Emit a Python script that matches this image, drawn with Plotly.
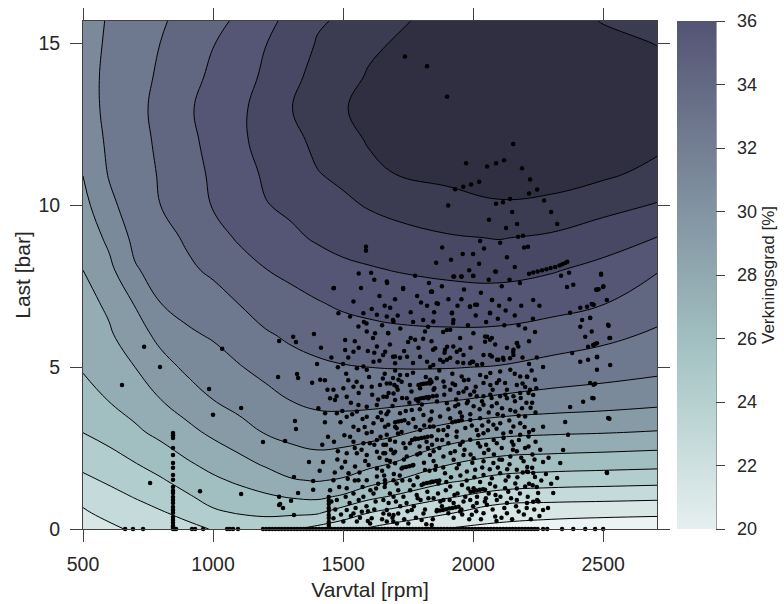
import plotly.graph_objects as go

# ---------------- contour grid ----------------
varvtal_grid = [500, 600, 700, 800, 900, 1000, 1100, 1200, 1300, 1400, 1500, 1600,
                1700, 1900, 2100, 2300, 2500, 2710]
last_grid = [0, 0.5, 1, 1.5, 2, 3, 4, 5, 6, 7, 8, 9, 10, 11, 12, 13, 14, 15, 15.7]

# efficiency [%] per rpm column, bottom (0 bar) to top (15.7 bar)
verk_500 = [21.5, 21.88, 22.25, 22.79, 23.22, 24.02, 24.6, 25.09, 25.39, 25.7, 26.0, 26.34, 26.69, 27.03, 27.25, 27.45, 27.57, 27.66, 27.7]
verk_600 = [21.8, 22.26, 22.7, 23.13, 23.57, 24.36, 25.04, 25.46, 25.88, 26.17, 26.74, 27.22, 27.78, 28.07, 28.2, 28.3, 28.25, 28.12, 28.06]
verk_700 = [22.15, 22.6, 23.05, 23.5, 23.95, 24.83, 25.44, 26.0, 26.53, 27.08, 27.91, 28.25, 28.45, 28.6, 28.7, 28.75, 28.7, 28.55, 28.45]
verk_800 = [22.5, 22.92, 23.4, 23.9, 24.38, 25.26, 26.0, 26.63, 27.3, 28.02, 28.36, 28.69, 29.01, 29.09, 29.17, 29.25, 29.13, 29.02, 28.9]
verk_900 = [22.75, 23.25, 23.88, 24.38, 24.86, 25.74, 26.5, 27.19, 27.84, 28.36, 28.83, 29.12, 29.32, 29.51, 29.7, 29.84, 29.62, 29.42, 29.3]
verk_1000 = [23.05, 23.84, 24.36, 24.82, 25.29, 26.2, 27.0, 27.56, 28.11, 28.63, 29.16, 29.68, 30.06, 30.2, 30.35, 30.43, 30.2, 29.97, 29.75]
verk_1100 = [23.3, 24.06, 24.61, 25.16, 25.68, 26.64, 27.35, 27.94, 28.49, 29.03, 29.64, 30.1, 30.34, 30.58, 30.83, 30.83, 30.58, 30.33, 30.15]
verk_1200 = [23.45, 24.17, 24.86, 25.5, 26.1, 27.06, 27.69, 28.29, 28.88, 29.49, 29.97, 30.46, 30.95, 31.14, 31.3, 31.33, 31.16, 30.97, 30.8]
verk_1300 = [23.1, 24.18, 25.08, 25.92, 26.45, 27.32, 28.03, 28.62, 29.18, 29.69, 30.24, 30.82, 31.18, 31.45, 31.71, 31.97, 31.75, 31.45, 31.2]
verk_1400 = [22.7, 24.11, 25.2, 26.05, 26.6, 27.5, 28.24, 28.82, 29.39, 29.94, 30.55, 31.11, 31.53, 31.96, 32.23, 32.5, 32.28, 32.06, 31.9]
verk_1500 = [22.4, 23.5, 24.86, 25.9, 26.47, 27.48, 28.29, 28.94, 29.56, 30.18, 30.79, 31.32, 31.8, 32.23, 32.62, 32.94, 32.64, 32.34, 32.12]
verk_1600 = [21.9, 23.0, 24.25, 25.4, 26.23, 27.35, 28.29, 29.0, 29.69, 30.32, 30.91, 31.49, 32.08, 32.74, 33.09, 33.25, 33.09, 32.82, 32.5]
verk_1700 = [21.6, 22.63, 23.88, 25.0, 25.91, 27.18, 28.24, 29.04, 29.78, 30.42, 31.03, 31.64, 32.31, 33.02, 33.26, 33.5, 33.28, 33.07, 32.85]
verk_1900 = [20.95, 22.1, 23.11, 24.17, 25.04, 26.64, 28.08, 29.04, 29.83, 30.53, 31.21, 31.9, 32.68, 33.22, 33.58, 33.95, 33.83, 33.65, 33.35]
verk_2100 = [20.75, 21.38, 22.56, 23.67, 24.58, 26.29, 27.83, 28.95, 29.79, 30.55, 31.29, 32.04, 32.91, 33.38, 33.8, 34.15, 34.1, 33.95, 33.75]
verk_2300 = [20.6, 21.27, 22.4, 23.48, 24.45, 26.15, 27.64, 28.68, 29.57, 30.36, 31.08, 31.85, 32.76, 33.45, 33.9, 34.1, 34.0, 33.75, 33.5]
verk_2500 = [20.45, 21.23, 22.32, 23.4, 24.36, 26.07, 27.5, 28.48, 29.25, 30.06, 30.71, 31.46, 32.32, 33.2, 33.6, 33.75, 33.6, 33.3, 32.95]
verk_2710 = [20.3, 21.2, 22.23, 23.32, 24.27, 25.95, 27.32, 28.26, 28.85, 29.44, 30.05, 30.97, 31.92, 32.72, 33.25, 33.5, 33.3, 32.97, 32.75]

verk_columns = [verk_500, verk_600, verk_700, verk_800, verk_900, verk_1000, verk_1100,
                verk_1200, verk_1300, verk_1400, verk_1500, verk_1600, verk_1700, verk_1900,
                verk_2100, verk_2300, verk_2500, verk_2710]

# ---------------- measured operating points ----------------
# points on the 0-bar line (rpm)
noll_rpm = [662, 692, 731, 846, 852, 858, 919, 931, 962, 1054, 1065, 1077, 1096,
            1192, 1204, 1216, 1228, 1240, 1252, 1264, 1276, 1288, 1300, 1312, 1324, 1336, 1348,
            1360, 1372, 1384, 1396, 1408, 1420, 1432, 1444, 1456, 1468, 1480, 1492, 1504, 1516,
            1528, 1540, 1552, 1564, 1576, 1588, 1600, 1612, 1624, 1636, 1648, 1660, 1672, 1684,
            1696, 1708, 1720, 1732, 1744, 1756, 1768, 1780, 1792, 1804, 1816, 1828, 1840, 1852,
            1864, 1876, 1888, 1900, 1912, 1924, 1936, 1948, 1960, 1972, 1984, 1996, 2008, 2020,
            2032, 2044, 2056, 2068, 2080, 2092, 2104, 2116, 2128, 2140, 2152, 2164, 2176, 2188,
            2200, 2212, 2224, 2236, 2248, 2269, 2285, 2342, 2385, 2431, 2469, 2500]

# vertical column of points near 850 rpm (bar)
kolumn850_last = [2.97, 2.9, 2.81, 2.5, 2.29, 2.04, 1.89, 1.67, 1.52, 1.3, 1.18, 1.11, 0.99,
                  0.9, 0.8, 0.68, 0.59, 0.5, 0.37, 0.28, 0.19, 0.1, 0.06]
# vertical column of points near 1445 rpm (bar)
kolumn1445_last = [0.99, 0.87, 0.77, 0.65, 0.56, 0.43, 0.34, 0.22, 0.12, 0.05]

# other points (rpm, bar)
punkter = [
    (1738, 14.6), (1823, 14.3), (1900, 13.36), (2154, 11.9), (1973, 11.3), (2054, 11.2),
    (2088, 11.3), (2119, 11.4), (2188, 11.15), (2219, 10.8), (1931, 10.5), (1962, 10.58),
    (1992, 10.65), (2023, 10.73), (2215, 10.37), (2246, 10.49), (1904, 10.0), (2088, 10.05),
    (2115, 10.1), (2142, 10.2), (2273, 10.15), (2061, 9.56), (2150, 9.8), (2300, 9.8),
    (2127, 9.3), (2169, 9.43), (2323, 9.43), (2173, 9.03), (2192, 9.06), (2027, 8.9),
    (2104, 8.85), (1881, 8.7), (2042, 8.67), (2196, 8.7), (2211, 8.72), (1915, 8.32),
    (1858, 8.23), (2023, 8.2), (2088, 7.95),
    (2215, 7.89), (2231, 7.93), (2248, 7.96), (2265, 8.0), (2282, 8.03), (2298, 8.07),
    (2315, 8.1), (2332, 8.14), (2343, 8.18), (2354, 8.22), (2362, 8.26),
    (2338, 7.83), (2369, 7.92), (2492, 7.89), (1777, 7.83), (1927, 7.8), (1954, 7.8),
    (2000, 7.83), (1669, 7.6), (1731, 7.42), (1838, 7.33), (2361, 7.48), (2385, 7.55),
    (2473, 7.4), (2500, 7.48), (1588, 8.72), (1588, 8.6), (1608, 7.92), (1465, 7.45), (1569, 7.45),
    # left scattered
    (650, 4.45), (735, 5.63), (796, 5.01), (758, 1.42), (950, 1.17), (985, 4.33), (1000, 3.53),
    (1035, 5.57), (1108, 3.74), (1108, 1.08), (1192, 2.69), (1277, 2.72), (1250, 4.7),
    (1254, 5.81), (1308, 5.94), (1319, 5.78), (1388, 6.03), (1323, 4.79), (1327, 4.67),
    (1315, 3.34), (1319, 3.09), (1369, 2.07), (1423, 2.07), (1442, 2.85), (1311, 1.61),
    (1385, 1.48), (1385, 1.21), (1254, 1.0), (1300, 0.87), (1254, 0.74), (1269, 0.65),
    (1311, 0.43), (1381, 4.52), (1258, 0.77), (1327, 1.11),
    # 1450-1710 rpm
    (1463, 7.44), (1668, 7.65), (1540, 7.03), (1578, 6.67), (1630, 6.62), (1668, 6.57),
    (1694, 6.41), (1482, 6.67), (1527, 6.57), (1559, 6.26), (1591, 6.1), (1623, 6.05),
    (1674, 6.05), (1508, 5.84), (1540, 5.48), (1508, 5.53), (1553, 4.97), (1578, 5.02),
    (1591, 4.92), (1630, 5.64), (1662, 5.48), (1700, 5.33), (1700, 5.12), (1617, 5.17),
    (1463, 4.3), (1501, 4.35), (1540, 4.4), (1572, 4.4), (1610, 4.4), (1642, 4.45),
    (1681, 4.5), (1713, 4.61), (1412, 4.61), (1450, 4.04), (1469, 3.99), (1514, 4.09),
    (1559, 3.83), (1591, 3.78), (1630, 3.83), (1668, 4.09), (1694, 4.19), (1405, 3.73),
    (1431, 3.58), (1476, 3.58), (1514, 3.47), (1553, 3.63), (1591, 3.47), (1617, 3.27),
    (1649, 3.37), (1674, 3.22), (1700, 3.16), (1540, 3.16), (1559, 3.06), (1591, 2.96),
    (1578, 2.65), (1630, 2.75), (1668, 2.91), (1700, 2.7), (1540, 2.7), (1514, 2.34),
    (1553, 2.34), (1591, 2.29), (1630, 2.39), (1662, 2.34), (1694, 2.34), (1508, 2.08),
    (1546, 1.93), (1598, 1.98), (1630, 1.87), (1668, 2.13), (1700, 2.03), (1521, 1.72),
    (1559, 1.51), (1591, 1.51), (1630, 1.62), (1662, 1.41), (1694, 1.51), (1463, 1.51),
    (1450, 1.2), (1514, 1.26), (1540, 1.1), (1578, 1.0), (1617, 1.1), (1655, 0.9),
    (1694, 1.0), (1476, 0.9), (1514, 0.59), (1540, 0.48), (1572, 0.53), (1610, 0.33),
    (1655, 0.48), (1694, 0.43), (1463, 0.33), (1501, 0.23), (1553, 0.23), (1604, 0.17),
    (1668, 0.23), (1707, 0.17),
    (1475, 4.1), (1490, 3.3), (1505, 2.9), (1520, 4.6), (1530, 3.9), (1545, 2.5), (1560, 4.2),
    (1575, 3.4), (1585, 2.1), (1600, 4.7), (1610, 3.0), (1620, 2.6), (1635, 4.0), (1645, 3.6),
    (1650, 1.8), (1480, 2.4), (1495, 1.9), (1510, 1.0), (1525, 0.8), (1545, 1.5), (1560, 0.9),
    (1575, 1.3), (1590, 0.7), (1605, 1.2), (1620, 0.6), (1635, 1.4), (1650, 0.3), (1470, 0.6),
    (1485, 1.3), (1530, 0.4), (1565, 0.35), (1595, 0.25), (1625, 0.85), (1640, 2.2), (1655, 2.6),
    (1500, 5.1), (1520, 5.3), (1560, 5.6), (1595, 5.5), (1615, 5.9), (1640, 5.2), (1580, 6.4),
    (1610, 6.8), (1650, 6.3), (1480, 5.0), (1455, 5.3), (1440, 4.3), (1430, 3.3), (1420, 2.6),
    (1410, 1.8), (1465, 2.7), (1430, 4.6), (1415, 5.6), (1400, 5.1),
    # 1650-1845 rpm
    (1668, 4.5), (1706, 4.4), (1757, 4.45), (1796, 4.35), (1834, 4.5), (1655, 4.09),
    (1700, 3.99), (1745, 4.04), (1789, 3.94), (1828, 4.04), (1674, 3.63), (1719, 3.58),
    (1764, 3.68), (1809, 3.52), (1841, 3.63), (1661, 3.16), (1706, 3.11), (1751, 3.27),
    (1796, 3.06), (1834, 3.16), (1680, 2.75), (1732, 2.65), (1777, 2.8), (1821, 2.7),
    (1655, 2.34), (1700, 2.39), (1745, 2.24), (1796, 2.34), (1834, 2.29), (1674, 1.93),
    (1725, 1.87), (1770, 1.98), (1815, 1.82), (1661, 1.51), (1706, 1.41), (1757, 1.51),
    (1802, 1.36), (1841, 1.46), (1680, 1.1), (1732, 1.0), (1783, 1.05), (1828, 0.95),
    (1668, 0.59), (1712, 0.48), (1764, 0.59), (1809, 0.48), (1693, 0.23), (1751, 0.17),
    (1802, 0.28), (1841, 0.12),
    (1790, 4.45), (1800, 4.47), (1810, 4.49), (1820, 4.5), (1830, 4.52), (1840, 4.54),
    (1780, 4.0), (1790, 4.02), (1800, 4.04), (1810, 4.05), (1820, 4.07), (1830, 4.08),
    (1845, 4.1), (1860, 4.12), (1765, 2.75), (1777, 2.77), (1789, 2.79), (1801, 2.81),
    (1813, 2.83), (1825, 2.85), (1840, 2.87), (1810, 1.4), (1822, 1.42), (1834, 1.44),
    (1846, 1.46), (1858, 1.48), (1870, 1.5), (1860, 0.55), (1872, 0.57), (1884, 0.59),
    (1896, 0.61), (1908, 0.63), (1920, 0.65), (1932, 0.67), (1944, 0.69), (1730, 1.9),
    (1742, 1.92), (1754, 1.94), (1766, 1.96), (1920, 3.3), (1932, 3.32), (1944, 3.34),
    (1956, 3.36), (1990, 1.15), (2002, 1.17), (2014, 1.19), (2026, 1.21), (2038, 1.23),
    (1700, 3.3), (1712, 3.32), (1724, 3.34), (1736, 3.36),
    (1660, 4.8), (1675, 4.2), (1690, 3.8), (1710, 4.3), (1725, 3.0), (1740, 2.5), (1755, 3.9),
    (1770, 3.4), (1785, 2.3), (1795, 3.7), (1812, 3.2), (1826, 2.5), (1838, 3.4), (1848, 2.1),
    (1665, 2.6), (1680, 2.1), (1695, 1.7), (1712, 1.2), (1728, 1.5), (1744, 0.8), (1758, 1.2),
    (1772, 0.7), (1786, 1.6), (1798, 0.9), (1815, 0.6), (1832, 1.8), (1845, 0.3), (1660, 1.3),
    (1675, 0.8), (1690, 0.35), (1720, 0.7), (1735, 0.3), (1780, 0.35), (1820, 0.15), (1700, 4.9),
    (1735, 5.5), (1760, 5.9), (1790, 5.6), (1815, 6.1), (1840, 5.8), (1720, 6.2), (1760, 6.7),
    (1800, 7.0), (1850, 6.7), (1700, 7.1), (1640, 7.2), (1620, 7.7), (1560, 7.9),
    (1731, 7.45), (1842, 7.33), (2073, 7.08), (2231, 7.08), (2015, 6.93), (1988, 6.87),
    (2065, 6.68), (1823, 6.9), (1865, 6.96), (1919, 6.68), (1681, 6.84), (1692, 6.46),
    (1769, 6.4), (1808, 6.46), (1827, 6.25), (1923, 6.37), (1912, 6.16), (1885, 6.09),
    (1673, 6.06), (1750, 5.78), (1777, 5.85), (1808, 5.88), (1900, 5.63), (1846, 5.54),
    (1950, 5.54), (2054, 5.94), (2065, 5.85), (2169, 5.75), (2238, 6.09), (2154, 5.47),
    (2115, 5.29), (2065, 5.38), (2092, 5.23), (2000, 5.17), (2015, 5.07), (1962, 5.13),
    (1912, 5.29), (1885, 5.17), (1796, 5.32), (1746, 5.32), (1719, 5.29), (1692, 5.32),
    (1654, 5.38), (1769, 5.13), (1823, 5.17), (1835, 5.01), (1692, 4.67), (1719, 4.76),
    (1746, 4.76), (1769, 4.83),
    # 1840-2250 rpm
    (1924, 7.8), (1956, 7.8), (2001, 7.82), (2085, 7.96), (1841, 7.34), (1860, 6.98),
    (1918, 6.67), (1988, 6.88), (2008, 6.93), (2072, 7.08), (2065, 6.67), (1847, 6.41),
    (1924, 6.46), (2001, 6.05), (2046, 5.95), (2072, 5.9), (2046, 5.79), (1950, 5.9),
    (1899, 6.15), (1854, 5.59), (1892, 5.54), (1924, 5.64), (1937, 5.48), (1963, 5.38),
    (1995, 5.17), (2040, 5.38), (2072, 5.33), (2097, 5.23), (2117, 5.23), (2142, 5.28),
    (2155, 5.38), (2168, 5.74), (2174, 5.64), (2155, 5.54), (1988, 5.12), (1873, 5.23),
    (1847, 5.07), (1899, 5.23), (1835, 4.61), (1860, 4.66), (1886, 4.56), (1956, 4.71),
    (1982, 4.61), (2027, 4.76), (2066, 4.82), (2104, 4.87), (2143, 4.92), (2181, 4.71),
    (2207, 4.71), (1931, 4.45), (2040, 4.51), (2066, 4.45), (2091, 4.51), (2123, 4.51),
    (2168, 4.45), (1848, 4.3), (1912, 4.3), (1944, 4.2), (1963, 4.25), (1989, 4.15),
    (2014, 4.1), (2040, 4.1), (2066, 4.15), (2104, 4.1), (2130, 4.04), (2155, 4.1),
    (2181, 4.2), (2213, 4.2), (1861, 3.94), (1899, 3.89), (1931, 3.79), (1976, 3.89),
    (2002, 3.79), (2040, 3.84), (2072, 3.79), (2091, 3.89), (2111, 3.73), (2143, 3.68),
    (2162, 3.63), (2188, 3.73), (2200, 3.48), (1873, 3.48), (1912, 3.42), (1957, 3.48),
    (1989, 3.37), (2027, 3.42), (2059, 3.32), (2078, 3.22), (2104, 3.27), (2155, 3.17),
    (2181, 3.27), (1848, 3.17), (1886, 3.06), (1937, 3.01), (1970, 3.12), (2014, 3.06),
    (2040, 2.96), (1861, 2.76), (1905, 2.65), (1950, 2.6), (1989, 2.76), (2027, 2.55),
    (2059, 2.45), (2091, 2.65), (2117, 2.81), (2149, 2.7), (2181, 2.91), (2213, 2.86),
    (1848, 2.4), (1886, 2.24), (1925, 2.14), (1963, 2.29), (2002, 2.19), (2040, 2.09),
    (2078, 2.04), (2111, 2.14), (2143, 2.24), (2168, 2.4), (2194, 2.09), (1854, 1.83),
    (1892, 1.72), (1937, 1.88), (1976, 1.78), (2008, 1.83), (2040, 1.67), (2072, 1.57),
    (2104, 1.72), (2136, 1.62), (2168, 1.83), (2207, 1.78), (1867, 1.41), (1912, 1.31),
    (1957, 1.36), (2002, 1.26), (2046, 1.21), (2085, 1.31), (2123, 1.26), (2162, 1.41),
    (2200, 1.31), (1848, 0.95), (1886, 0.9), (1925, 0.8), (1963, 0.85), (1989, 0.9),
    (2014, 0.8), (2053, 0.75), (2091, 0.9), (2130, 0.8), (2168, 0.9), (2207, 0.8),
    (1861, 0.59), (1905, 0.49), (1950, 0.54), (1995, 0.44), (2040, 0.49), (2085, 0.39),
    (2130, 0.49), (2175, 0.54),
    (1870, 4.9), (1890, 4.4), (1905, 3.7), (1920, 4.8), (1935, 4.0), (1950, 3.6), (1965, 4.6),
    (1980, 3.95), (1995, 3.2), (2010, 4.4), (2025, 3.7), (2035, 3.2), (2050, 4.7), (2060, 3.6),
    (2075, 4.3), (2090, 3.1), (2100, 4.6), (2115, 3.5), (2130, 4.3), (2145, 3.0), (2160, 4.8),
    (2175, 3.5), (2190, 4.5), (2205, 3.9), (2215, 3.0), (2225, 4.9), (2240, 3.6),
    (1870, 2.5), (1885, 1.9), (1900, 2.9), (1915, 1.6), (1930, 2.4), (1945, 2.0), (1960, 2.7),
    (1975, 1.5), (1990, 2.3), (2005, 1.6), (2020, 2.9), (2035, 1.9), (2050, 2.6), (2065, 1.4),
    (2080, 2.3), (2095, 1.9), (2110, 2.5), (2125, 1.5), (2140, 2.0), (2155, 2.6), (2170, 1.6),
    (2185, 2.2), (2200, 2.5), (2215, 1.4), (2228, 2.3), (2240, 2.7),
    (1865, 1.1), (1880, 0.7), (1895, 1.2), (1910, 0.9), (1925, 0.35), (1940, 1.1), (1955, 0.6),
    (1970, 1.0), (1985, 0.3), (2000, 0.7), (2015, 1.0), (2030, 0.3), (2045, 0.85), (2060, 1.1),
    (2075, 0.6), (2090, 0.25), (2105, 1.0), (2120, 0.65), (2135, 1.15), (2150, 0.3), (2165, 0.7),
    (2180, 1.1), (2195, 0.45), (2210, 1.0), (2222, 0.3), (2235, 0.6), (2245, 1.3), (2255, 0.4),
    (2262, 1.5), (2280, 1.7), (2290, 2.2), (2300, 1.4),
    (1880, 7.5), (1905, 7.1), (1940, 6.9), (1965, 7.4), (1980, 6.3), (2030, 7.3), (2050, 6.4),
    (2100, 6.9), (2120, 6.3), (2140, 7.1), (2160, 6.6), (2185, 6.9), (2200, 6.2), (2215, 5.8),
    (2230, 6.5), (2245, 5.3), (2255, 6.9), (2180, 7.6), (2140, 7.7), (2110, 7.5), (2060, 7.7),
    (1985, 8.0), (1960, 8.5), (2000, 8.5), (2130, 8.4), (2160, 8.1),
    (1455, 0.85), (1468, 1.75), (1478, 2.15), (1492, 0.45), (1497, 3.65), (1512, 4.8),
    (1518, 1.55), (1527, 2.85), (1535, 3.55), (1548, 0.65), (1552, 4.55), (1563, 1.75),
    (1571, 2.45), (1583, 3.15), (1596, 0.55), (1603, 2.65), (1612, 4.15), (1627, 1.25),
    (1633, 3.45), (1644, 2.85), (1653, 4.65), (1658, 1.65), (1667, 3.55), (1677, 0.45),
    (1684, 2.45), (1697, 4.45), (1703, 0.85), (1711, 2.95), (1718, 1.65), (1727, 4.05),
    (1734, 2.15), (1741, 3.65), (1748, 0.55), (1757, 2.65), (1763, 4.25), (1771, 1.35),
    (1779, 3.15), (1787, 0.95), (1794, 2.55), (1803, 3.85), (1811, 2.05), (1818, 4.7),
    (1824, 1.15), (1833, 3.35), (1842, 2.6), (1851, 4.35), (1857, 1.95), (1866, 3.05),
    (1874, 0.85), (1881, 2.75), (1889, 4.15), (1897, 1.45), (1904, 3.15), (1913, 2.35),
    (1921, 4.5), (1928, 1.05), (1936, 2.85), (1943, 3.85), (1951, 1.65), (1958, 0.45),
    (1967, 2.45), (1974, 4.35), (1981, 1.25), (1989, 3.55), (1997, 2.05), (2004, 4.25),
    (2012, 0.55), (2019, 2.65), (2027, 1.45), (2034, 3.95), (2042, 2.35), (2049, 0.95),
    (2057, 3.05), (2064, 1.85), (2071, 4.05), (2079, 2.75), (2086, 1.05), (2094, 3.55),
    (2101, 2.15), (2109, 0.35), (2116, 2.95), (2124, 4.15), (2131, 1.85), (2139, 3.35),
    (2146, 0.95), (2153, 2.45), (2161, 3.95), (2168, 1.25), (2176, 2.75), (2183, 4.05),
    (2191, 1.75), (2198, 3.15), (2206, 0.65), (2213, 2.55), (2221, 3.75), (2229, 1.35),
    (2236, 2.15), (2243, 4.35), (2251, 0.85), (2258, 2.45),
    (1890, 5.45), (1940, 5.15), (1990, 5.6), (2035, 5.1), (2085, 5.7), (2130, 5.6),
    (2190, 5.3), (2215, 5.1), (1620, 5.45), (1680, 5.7), (1725, 4.55), (1545, 5.8),
    (1590, 6.35), (1660, 6.9), (1710, 6.6), (1785, 7.2), (1830, 7.6), (1955, 7.1),
    (2010, 6.6), (2095, 6.5), (2125, 6.75), (2175, 6.3),
    # right part and 2480 rpm column
    (2492, 7.86), (2476, 7.39), (2482, 7.41), (2501, 7.5), (2514, 7.08), (2463, 6.93),
    (2456, 6.95), (2450, 6.52), (2456, 6.1), (2521, 6.28), (2524, 5.9), (2463, 5.69),
    (2469, 5.72), (2476, 5.74), (2476, 5.31), (2527, 5.07), (2476, 4.92), (2450, 4.51),
    (2463, 4.46), (2469, 4.49), (2463, 4.04), (2524, 3.41), (2514, 1.75),
    (2412, 6.25), (2431, 5.94), (2442, 5.63), (2462, 5.69), (2519, 6.31), (2527, 5.9),
    (2419, 6.46), (2450, 6.53), (2373, 6.68), (2412, 6.84), (2438, 6.87), (2462, 6.93),
    (2381, 5.44), (2412, 5.17), (2442, 5.23), (2477, 5.32), (2269, 5.01), (2373, 3.77),
    (2423, 3.93), (2458, 4.05), (2519, 3.43), (2354, 3.31), (2365, 2.91), (2346, 2.44),
    (2335, 2.04), (2515, 1.73), (2323, 1.58), (2308, 1.11), (2288, 0.65), (2269, 0.59),
    (2246, 0.9), (2231, 0.84), (2250, 1.11), (2238, 1.61), (2231, 1.73), (2227, 1.89),
    (2269, 2.07), (2208, 1.92), (2211, 1.76), (2269, 3.16), (2231, 3.06), (2227, 3.9),
    (2231, 4.14), (2219, 4.3), (2200, 4.39), (2238, 4.61), (2208, 4.7),
]

# ---------------- colours ----------------
# contour band colours (band 20-21 ... 33-34)
band_colors = ["rgb(236,243,243)", "rgb(216,230,230)", "rgb(197,218,218)", "rgb(177,205,205)",
               "rgb(161,190,193)", "rgb(148,172,180)", "rgb(135,155,167)", "rgb(123,138,155)",
               "rgb(110,120,142)", "rgb(98,103,129)", "rgb(85,85,117)", "rgb(72,72,100)",
               "rgb(59,59,82)", "rgb(47,47,65)"]
# colour bar colours, 20 -> 36
cbar_colors = ["rgb(230,239,239)", "rgb(206,224,224)", "rgb(182,208,208)", "rgb(161,191,193)",
               "rgb(145,169,177)", "rgb(130,148,162)", "rgb(115,126,147)", "rgb(99,105,131)",
               "rgb(84,84,116)"]
cbar_ticks = [20, 22, 24, 26, 28, 30, 32, 34, 36]

# ---------------- build figure ----------------
z = [[col[i] for col in verk_columns] for i in range(len(last_grid))]
nb = len(band_colors)
band_scale = [[k / (nb - 1), c] for k, c in enumerate(band_colors)]
nc = len(cbar_colors)
cbar_scale = [[k / (nc - 1), c] for k, c in enumerate(cbar_colors)]

FONT = "Liberation Sans, Arial, sans-serif"

fig = go.Figure()
fig.add_trace(go.Contour(
    x=varvtal_grid, y=last_grid, z=z,
    autocontour=False,
    contours=dict(start=21, end=33, size=1, coloring="fill", showlines=True),
    line=dict(color="black", width=1.0, smoothing=1.2),
    colorscale=band_scale, showscale=False, hoverinfo="skip",
))

sx = list(noll_rpm) + [846] * len(kolumn850_last) + [1445] * len(kolumn1445_last) + [p[0] for p in punkter]
sy = [0] * len(noll_rpm) + list(kolumn850_last) + list(kolumn1445_last) + [p[1] for p in punkter]
fig.add_trace(go.Scatter(
    x=sx, y=sy, mode="markers", cliponaxis=False,
    marker=dict(color="black", size=4.5, line=dict(width=0)),
    showlegend=False, hoverinfo="skip",
))

# colour bar
fig.add_trace(go.Scatter(
    x=[None], y=[None], mode="markers", showlegend=False, hoverinfo="skip",
    marker=dict(color=[20], cmin=20, cmax=36, colorscale=cbar_scale, showscale=True,
                colorbar=dict(
                    x=(677 - 83) / 574, xanchor="left", xpad=0,
                    y=0, yanchor="bottom", len=1, lenmode="fraction", ypad=0,
                    thickness=39, thicknessmode="pixels", outlinewidth=0,
                    tickvals=cbar_ticks, ticktext=["\u2002" + str(t) for t in cbar_ticks],
                    ticks="outside", ticklen=9, tickwidth=1, tickcolor="#404040",
                    tickfont=dict(family=FONT, size=18, color="#262626"),
                    title=dict(text="Verkningsgrad [%]", side="right",
                               font=dict(family=FONT, size=17, color="#262626")),
                )),
))

axis_font = dict(family=FONT, size=19.5, color="#262626")
title_font = dict(family=FONT, size=21, color="#262626")

fig.update_layout(
    width=784, height=604,
    margin=dict(l=83, r=127, t=21, b=75, pad=0, autoexpand=False),
    paper_bgcolor="white", plot_bgcolor="white",
    showlegend=False,
    xaxis=dict(range=[500, 2707], tickvals=[500, 1000, 1500, 2000, 2500],
               ticks="outside", ticklen=12, tickwidth=1, tickcolor="#404040",
               showline=True, linecolor="#404040", linewidth=1, mirror="ticks",
               showgrid=False, zeroline=False, tickfont=axis_font, ticklabelstandoff=6,
               title=dict(text="Varvtal [rpm]", font=title_font, standoff=7), automargin=False),
    yaxis=dict(range=[0, 15.7], tickvals=[0, 5, 10, 15],
               ticks="outside", ticklen=12, tickwidth=1, tickcolor="#404040",
               showline=True, linecolor="#404040", linewidth=1, mirror="ticks",
               showgrid=False, zeroline=False, tickfont=axis_font, ticklabelstandoff=6,
               title=dict(text="Last [bar]", font=title_font, standoff=2), automargin=False),
    shapes=[dict(type="line", xref="paper", yref="paper",
                 x0=(716 - 83) / 574, x1=(716 - 83) / 574, y0=0, y1=1,
                 line=dict(color="#404040", width=1))],
)

fig.write_html("out.html")
